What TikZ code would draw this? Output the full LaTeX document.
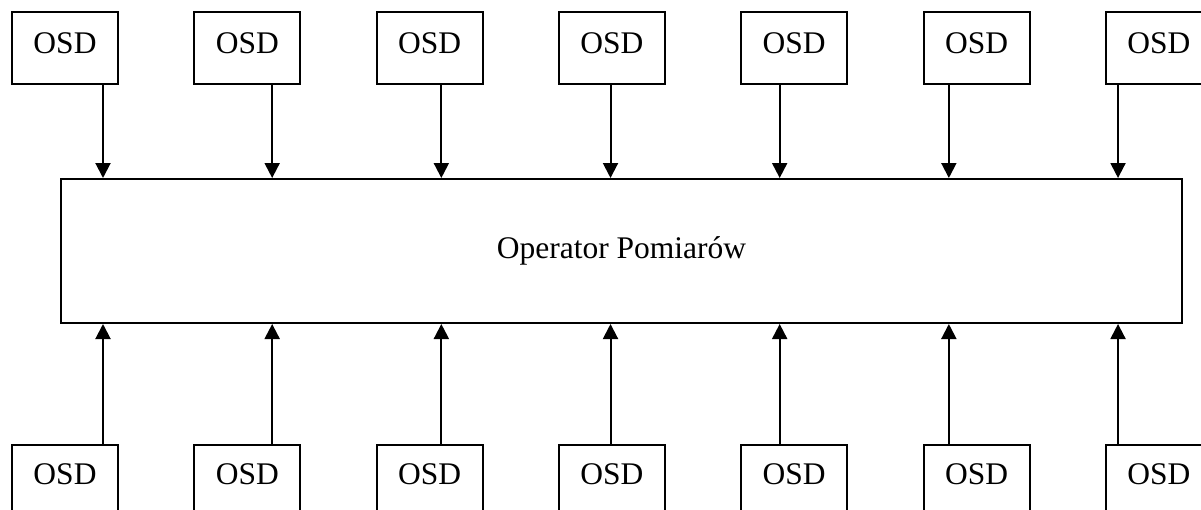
\documentclass[tikz,border=0pt]{standalone}
\usepackage{fontspec}
\setmainfont{Liberation Serif}
\usetikzlibrary{arrows.meta}
\begin{document}
\begin{tikzpicture}[x=1pt,y=-1pt,
  every node/.style={font=\fontsize{31.5}{36}\selectfont},
  osdbox/.style={draw,line width=2pt,minimum width=106pt,inner xsep=0pt,inner ysep=0pt,text height=41pt,text depth=31pt,anchor=north west},
  mainbox/.style={draw,line width=2pt,minimum width=1121pt,minimum height=144pt,inner sep=0pt},
  conn/.style={line width=2pt,-{Triangle[width=15pt,length=15pt]}}]
\useasboundingbox (0,0) rectangle (1201,509);
\clip (0,0) rectangle (1201,509);
\node[mainbox] (main) at (621.5,251) {Operator Pomiarów};
\foreach \i in {0,...,6}{
  \pgfmathsetmacro{\bx}{11+182.3*\i}
  \pgfmathsetmacro{\ax}{103+169.17*\i}
  \node[osdbox] (t\i) at (\bx,11) {OSD};
  \node[osdbox,text height=40pt] (b\i) at (\bx,443.5) {OSD};
  \coordinate (a\i) at (\ax,0);
  \draw[conn] (t\i.south -| a\i) -- (main.north -| a\i);
  \draw[conn] (b\i.north -| a\i) -- (main.south -| a\i);
}
\end{tikzpicture}
\end{document}
